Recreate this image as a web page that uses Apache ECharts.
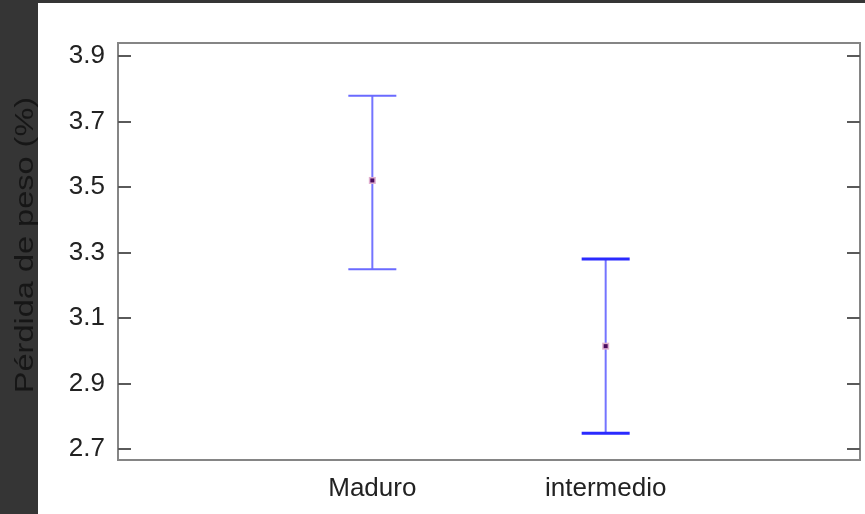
<!DOCTYPE html>
<html>
<head>
<meta charset="utf-8">
<script src="https://cdn.jsdelivr.net/npm/echarts@6/dist/echarts.min.js"></script>
<style>
  html, body { margin: 0; padding: 0; background: #353535; }
  #paper { position: absolute; left: 38px; top: 3px; width: 827px; height: 511px; background: #ffffff; }
  #chart { position: absolute; left: 0; top: 0; width: 865px; height: 514px; }
</style>
</head>
<body>
<div id="paper"></div>
<div id="chart"></div>
<script>
// ---- data ----
var categories = ['Maduro', 'intermedio'];
var means = [3.52, 3.014];
var lowerLimits = [3.249, 2.748];
var upperLimits = [3.779, 3.280];
var yTicks = [2.7, 2.9, 3.1, 3.3, 3.5, 3.7, 3.9];
var categoryPositions = [1, 2];
var yTitle = 'Pérdida de peso (%)';

var FONT = "'Liberation Sans', Arial, sans-serif";

var seriesData = categories.map(function (c, i) {
  return [categoryPositions[i], means[i], lowerLimits[i], upperLimits[i]];
});

var chart = echarts.init(document.getElementById('chart'), null, { renderer: 'canvas' });

var tickStyle = { show: true, inside: true, length: 13, customValues: yTicks,
  lineStyle: { color: '#5a5a5a', width: 2 } };

var option = {
  backgroundColor: 'transparent',
  animation: false,
  grid: {
    left: 118, top: 43, right: 5, bottom: 54,
    show: true, borderColor: '#858585', borderWidth: 2, backgroundColor: 'transparent'
  },
  xAxis: {
    type: 'value',
    min: -0.09, max: 3.09,
    axisLine: { show: false, onZero: false },
    axisTick: { show: false },
    splitLine: { show: false },
    axisLabel: {
      customValues: categoryPositions,
      formatter: function (v) {
        var idx = categoryPositions.indexOf(v);
        return idx >= 0 ? categories[idx] : '';
      },
      color: '#222', fontSize: 26, fontFamily: FONT, margin: 16
    }
  },
  yAxis: [{
    type: 'value',
    position: 'left',
    min: 2.6664, max: 3.9397,
    axisLine: { show: false, onZero: false },
    splitLine: { show: false },
    axisTick: tickStyle,
    axisLabel: { customValues: yTicks, color: '#222', fontSize: 26, fontFamily: FONT, margin: 13,
      formatter: function (v) { return v.toFixed(1); } }
  }, {
    type: 'value',
    position: 'right',
    min: 2.6664, max: 3.9397,
    axisLine: { show: false, onZero: false },
    splitLine: { show: false },
    axisTick: tickStyle,
    axisLabel: { show: false }
  }],
  graphic: [{
    type: 'text',
    x: 26, y: 245,
    rotation: Math.PI / 2,
    scaleX: 1.3,
    style: {
      text: yTitle,
      fill: '#161616',
      font: '25px ' + FONT,
      textAlign: 'center',
      textVerticalAlign: 'middle'
    }
  }],
  series: [{
    type: 'custom',
    data: seriesData,
    encode: { x: 0, y: [1, 2, 3] },
    renderItem: function (params, api) {
      var x = api.value(0);
      var mid = api.coord([x, api.value(1)]);
      var lo = api.coord([x, api.value(2)]);
      var hi = api.coord([x, api.value(3)]);
      var half = 24;
      var dark = params.dataIndex === 1;
      var vColor = '#7474ff';
      var capColor = dark ? '#2a2aff' : '#6a6aff';
      var capW = dark ? 3 : 2;
      return {
        type: 'group',
        children: [
          { type: 'line', shape: { x1: mid[0], y1: hi[1], x2: mid[0], y2: lo[1] },
            style: { stroke: vColor, lineWidth: 2 } },
          { type: 'line', shape: { x1: mid[0] - half, y1: hi[1], x2: mid[0] + half, y2: hi[1] },
            style: { stroke: capColor, lineWidth: capW } },
          { type: 'line', shape: { x1: mid[0] - half, y1: lo[1], x2: mid[0] + half, y2: lo[1] },
            style: { stroke: capColor, lineWidth: capW } },
          { type: 'rect', shape: { x: mid[0] - 3.5, y: mid[1] - 3.5, width: 7, height: 7 },
            style: { fill: '#e0b0d0' } },
          { type: 'rect', shape: { x: mid[0] - 2, y: mid[1] - 2, width: 4, height: 4 },
            style: { fill: '#4b0b5e' } }
        ]
      };
    }
  }]
};

chart.setOption(option);
</script>
</body>
</html>
